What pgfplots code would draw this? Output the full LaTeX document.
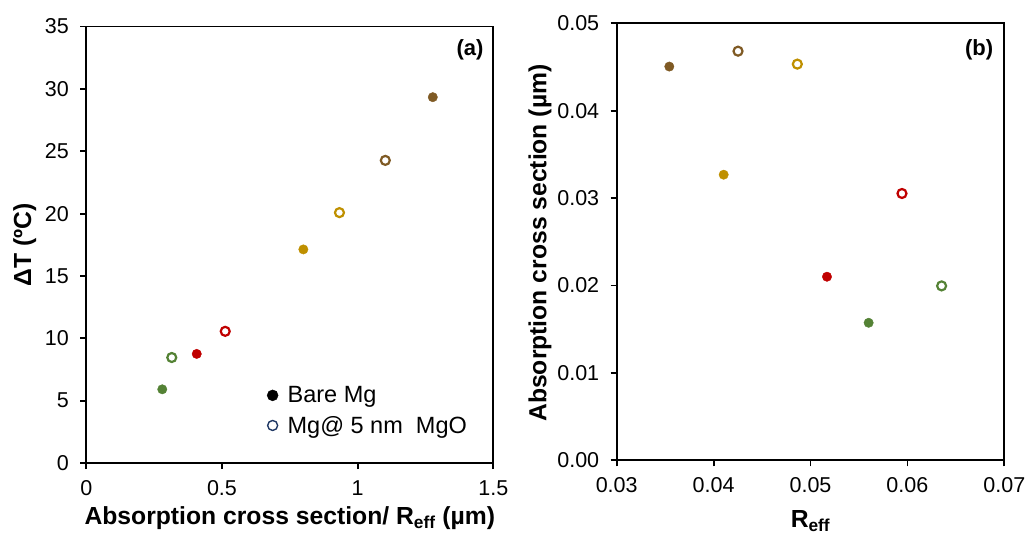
\documentclass[border=0pt]{standalone}
\usepackage{pgfplots}
\pgfplotsset{compat=1.18}
\usepackage{fontspec}
\setmainfont{Liberation Sans}

\definecolor{cgreen}{HTML}{548235}
\definecolor{cred}{HTML}{C00000}
\definecolor{cgold}{HTML}{BF9000}
\definecolor{cbrown}{HTML}{7F5A24}
\definecolor{cnavy}{HTML}{203864}

\pgfplotsset{
  panel/.style={
    scale only axis,
    clip=false,
    axis line style={line width=1.8pt, black},
    tick align=outside,
    major tick length=6pt,
    tick style={line width=1.8pt, black},
    xtick pos=bottom, ytick pos=left,
    tick label style={font=\fontsize{21.5}{23}\selectfont},
    xticklabel style={yshift=-8pt},
    yticklabel style={xshift=-8pt},
    label style={font=\bfseries\fontsize{24.7}{26}\selectfont},
    /pgf/number format/assume math mode=true,
  },
  filled/.style={only marks, mark=*, mark size=4.7pt,
    mark options={draw=#1, fill=#1}},
  hollow/.style={only marks, mark=o, mark size=4.5pt,
    mark options={draw=#1, line width=2.2pt}},
}

\begin{document}
\begin{tikzpicture}
\useasboundingbox (0pt,0pt) rectangle (1031pt,535pt);

% (a) temperature rise against absorption cross section / R_eff
\begin{axis}[panel,
  at={(86.3pt,72pt)}, anchor=south west,
  width=407pt, height=436.4pt,
  xmin=0, xmax=1.5, ymin=0, ymax=35,
  xtick={0,0.5,1,1.5}, ytick={0,5,...,35},
  xlabel={Absorption cross section/ R\textsubscript{eff} (µm)},
  ylabel={ΔT (ºC)},
  xlabel style={at={(axis description cs:0.5,-0.142)}, anchor=base},
  ylabel style={at={(axis description cs:-0.151,0.5)}, anchor=center},
  legend image code/.code={%
    \path[draw=none, fill=none] (0pt,-5pt) rectangle (21pt,5pt);
    \draw[mark repeat=2, mark phase=2, #1] plot coordinates {(0pt,0pt) (8pt,0pt) (16pt,0pt)};},
  legend style={at={(axis description cs:0.4377,0.12)}, anchor=west,
    draw=none, fill=none, inner sep=0pt,
    font=\fontsize{23.5}{25}\selectfont,
    row sep=8pt},
  legend cell align=left,
]
\addlegendimage{only marks, mark=*, mark size=5.5pt, mark options={draw=black, fill=black}}
\addlegendentry{Bare Mg}
\addlegendimage{only marks, mark=o, mark size=5pt, mark options={draw=cnavy, line width=1.4pt}}
\addlegendentry{Mg@ 5 nm\ \ MgO}

\addplot[filled=cgreen] coordinates {(0.280,5.91)};
\addplot[hollow=cgreen] coordinates {(0.315,8.46)};
\addplot[filled=cred]   coordinates {(0.407,8.75)};
\addplot[hollow=cred]   coordinates {(0.512,10.56)};
\addplot[filled=cgold]  coordinates {(0.800,17.13)};
\addplot[hollow=cgold]  coordinates {(0.933,20.08)};
\addplot[hollow=cbrown] coordinates {(1.102,24.27)};
\addplot[filled=cbrown] coordinates {(1.277,29.34)};

\node[font=\bfseries\fontsize{22}{24}\selectfont] at (rel axis cs:0.943,0.9475) {(a)};
\end{axis}

% (b) absorption cross section against R_eff
\begin{axis}[panel,
  at={(616.7pt,74.7pt)}, anchor=south west,
  width=387.6pt, height=437.1pt,
  xmin=0.03, xmax=0.07, ymin=0, ymax=0.05,
  xtick={0.03,0.04,...,0.07}, ytick={0,0.01,...,0.05},
  xticklabel style={/pgf/number format/.cd, fixed, fixed zerofill, precision=2},
  yticklabel style={/pgf/number format/.cd, fixed, fixed zerofill, precision=2},
  scaled x ticks=false, scaled y ticks=false,
  xlabel={R\textsubscript{eff}},
  ylabel={Absorption cross section (µm)},
  xlabel style={at={(axis description cs:0.5,-0.153)}, anchor=base},
  ylabel style={at={(axis description cs:-0.198,0.497)}, anchor=center},
]
\addplot[filled=cbrown] coordinates {(0.03543,0.04504)};
\addplot[hollow=cbrown] coordinates {(0.04252,0.04680)};
\addplot[hollow=cgold]  coordinates {(0.04864,0.04532)};
\addplot[filled=cgold]  coordinates {(0.04104,0.03267)};
\addplot[hollow=cred]   coordinates {(0.05944,0.03052)};
\addplot[filled=cred]   coordinates {(0.05170,0.02100)};
\addplot[filled=cgreen] coordinates {(0.05600,0.01573)};
\addplot[hollow=cgreen] coordinates {(0.06353,0.01995)};

\node[font=\bfseries\fontsize{22}{24}\selectfont] at (rel axis cs:0.935,0.94) {(b)};
\end{axis}
\end{tikzpicture}
\end{document}
